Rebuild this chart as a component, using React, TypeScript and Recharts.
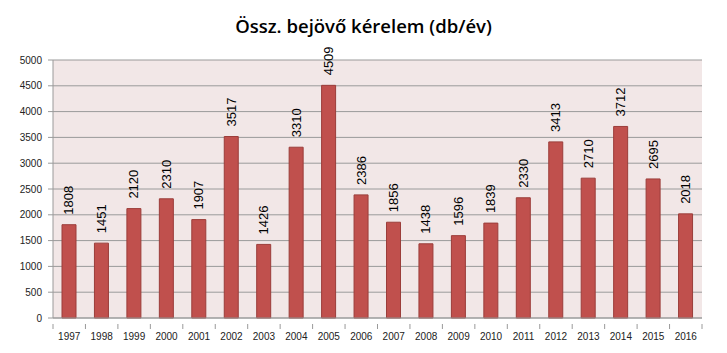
import React from "react";
import { BarChart, Bar, XAxis, YAxis, CartesianGrid, LabelList } from "recharts";

const years = ["1997","1998","1999","2000","2001","2002","2003","2004","2005","2006","2007","2008","2009","2010","2011","2012","2013","2014","2015","2016"];
const requests = [1808,1451,2120,2310,1907,3517,1426,3310,4509,2386,1856,1438,1596,1839,2330,3413,2710,3712,2695,2018];
const yTicks = [0,500,1000,1500,2000,2500,3000,3500,4000,4500,5000];
const title = "Össz. bejövő kérelem (db/év)";

const data = years.map((y, i) => ({ year: y, value: requests[i] }));

const W = 727;
const H = 353;
const M = { top: 60, right: 25, left: 8, bottom: 10 };
const Y_W = 45;
const BAND = (W - M.left - M.right - Y_W) / years.length;

const RotLabel = (props: any) => {
  const { x, y, width, value } = props;
  const cx = x + width / 2;
  const cy = y - 10;
  return (
    <text
      x={cx}
      y={cy}
      transform={`rotate(-90 ${cx} ${cy})`}
      textAnchor="start"
      dominantBaseline="central"
      fontFamily="'Liberation Sans', Arial, sans-serif"
      fontSize={13}
      fill="#000"
    >
      {value}
    </text>
  );
};

const XTick = (props: any) => {
  const { x, y, payload, index } = props;
  const top = y - 8;
  return (
    <g>
      <line x1={x - BAND / 2} x2={x - BAND / 2} y1={top} y2={top + 5} stroke="#9a9a9a" />
      {index === years.length - 1 && (
        <line x1={x + BAND / 2} x2={x + BAND / 2} y1={top} y2={top + 5} stroke="#9a9a9a" />
      )}
      <text
        x={x}
        y={y + 8}
        textAnchor="middle"
        fontFamily="'Liberation Sans', Arial, sans-serif"
        fontSize={10}
        fill="#222"
      >
        {payload.value}
      </text>
    </g>
  );
};

export default function App() {
  return (
    <div style={{ position: "absolute", left: 0, top: 0, width: W, height: H, background: "#fff" }}>
      <div
        style={{
          position: "absolute",
          left: 0,
          top: 13,
          width: W,
          textAlign: "center",
          fontFamily: "'Open Sans', sans-serif",
          fontWeight: 600,
          fontSize: 18.5,
          color: "#000",
        }}
      >
        {title}
      </div>
      <BarChart width={W} height={H} data={data} margin={M} barSize={14}>
        <CartesianGrid vertical={false} stroke="#9a9a9a" fill="#f2e7e7" fillOpacity={1} />
        <XAxis
          dataKey="year"
          interval={0}
          tickLine={false}
          axisLine={{ stroke: "#9a9a9a" }}
          tick={<XTick />}
          tickMargin={8}
          height={25}
        />
        <YAxis
          domain={[0, 5000]}
          ticks={yTicks}
          interval={0}
          width={Y_W}
          tickLine={{ stroke: "#9a9a9a" }}
          tickSize={5}
          axisLine={{ stroke: "#9a9a9a" }}
          tick={{ fontSize: 10, fill: "#222", fontFamily: "'Liberation Sans', Arial, sans-serif" }}
          tickMargin={6}
        />
        <Bar dataKey="value" fill="#c0504d" stroke="#9b3d3a" strokeWidth={1} isAnimationActive={false}>
          <LabelList dataKey="value" content={RotLabel} />
        </Bar>
      </BarChart>
    </div>
  );
}
